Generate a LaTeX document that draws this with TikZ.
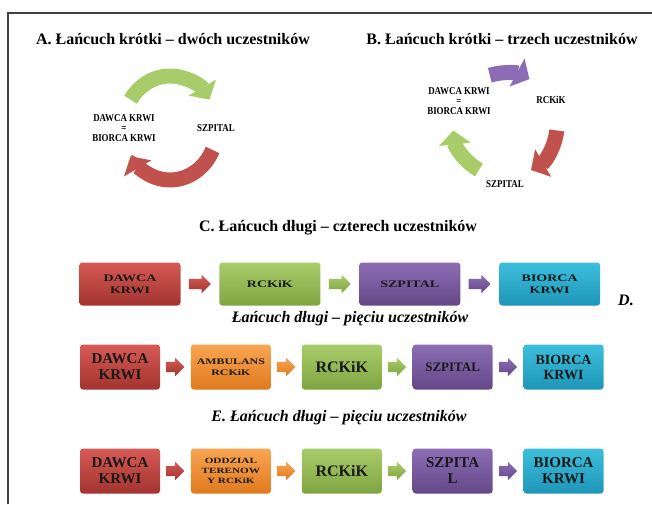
\documentclass[tikz,border=0pt]{standalone}
\usepackage{fontspec}
\setmainfont{Liberation Serif}
\newfontfamily\widefont[FakeStretch=1.4]{Liberation Serif}
\newfontfamily\narrowfont[FakeStretch=0.85]{Liberation Serif}
\usetikzlibrary{positioning,shapes.arrows,arrows.meta}

\definecolor{redtop}{HTML}{D65A55}
\definecolor{redbot}{HTML}{A2332F}
\definecolor{greentop}{HTML}{A9CC6B}
\definecolor{greenbot}{HTML}{7FA541}
\definecolor{purpletop}{HTML}{8C6DB5}
\definecolor{purplebot}{HTML}{644887}
\definecolor{cyantop}{HTML}{3DBEDD}
\definecolor{cyanbot}{HTML}{1E96B8}
\definecolor{orangetop}{HTML}{F9A552}
\definecolor{orangebot}{HTML}{E07A1E}

\begin{document}
\begin{tikzpicture}[x=1pt,y=-1pt,
  title/.style={font=\bfseries\fontsize{16}{18}\selectfont},
  ititle/.style={font=\bfseries\itshape\fontsize{16}{18}\selectfont},
  ringtext/.style={font=\narrowfont\bfseries\fontsize{10.5}{10}\selectfont,align=center,inner sep=1pt},
  ring/.style={line width=15pt,-{Triangle[length=14pt,width=31pt]}},
  box/.style={rounded corners=3pt,align=center,inner sep=1pt,text=black!90,
    minimum width=80pt,minimum height=45pt,font=\bfseries\fontsize{15}{16}\selectfont},
  bigbox/.style={box,minimum width=101pt,minimum height=43pt,font=\widefont\bfseries\fontsize{10}{12}\selectfont},
  smalltext/.style={font=\widefont\bfseries\fontsize{8.5}{11}\selectfont},
  redfill/.style={top color=redtop,bottom color=redbot},
  greenfill/.style={top color=greentop,bottom color=greenbot},
  purplefill/.style={top color=purpletop,bottom color=purplebot},
  cyanfill/.style={top color=cyantop,bottom color=cyanbot},
  orangefill/.style={top color=orangetop,bottom color=orangebot},
  link/.style={single arrow,single arrow head extend=4pt,inner xsep=0pt,inner ysep=5pt,
    minimum height=18pt},
  biglink/.style={link,minimum height=22pt}]
\useasboundingbox (0,0) rectangle (652,504);
\draw[line width=1.2pt,black!75] (8,504) -- (8,13) -- (652,13);

% A. short chain, two participants
\node[title] (ta) at (173,39) {A. Łańcuch krótki – dwóch uczestników};
\coordinate (ca) at (170,128);
\draw[ring,greentop] (ca) ++(-147:47 and 52) arc[start angle=-147,end angle=-33,x radius=47,y radius=52];
\draw[ring,redtop!90!black] (ca) ++(25:47 and 52) arc[start angle=25,end angle=147,x radius=47,y radius=52];
\node[ringtext] (a1) at (124,128) {DAWCA KRWI\\=\\BIORCA KRWI};
\node[ringtext] (a2) at (216,128) {SZPITAL};

% B. short chain, three participants
\node[title] (tb) at (502,39) {B. Łańcuch krótki – trzech uczestników};
\coordinate (cb) at (505,125);
\draw[ring,purpletop] (cb) ++(-107:52) arc[start angle=-107,end angle=-62,radius=52];
\draw[ring,redtop!90!black] (cb) ++(6:52) arc[start angle=6,end angle=60,radius=52];
\draw[ring,greentop] (cb) ++(120:52) arc[start angle=120,end angle=174,radius=52];
\node[ringtext] (b1) at (459,101) {DAWCA KRWI\\=\\BIORCA KRWI};
\node[ringtext] (b2) at (551,100) {RCKiK};
\node[ringtext] (b3) at (505,184) {SZPITAL};

% C. long chain, four participants
\node[title] (tc) at (338,228) {C. Łańcuch długi – czterech uczestników};
\node[bigbox,redfill] (c1) at (130,284) {DAWCA\\KRWI};
\node[biglink,redfill,right=8pt of c1] (cl1) {};
\node[bigbox,greenfill,right=8pt of cl1] (c2) {RCKiK};
\node[biglink,greenfill,right=8pt of c2] (cl2) {};
\node[bigbox,purplefill,right=8pt of cl2] (c3) {SZPITAL};
\node[biglink,purplefill,right=8pt of c3] (cl3) {};
\node[bigbox,cyanfill,right=8pt of cl3] (c4) {BIORCA\\KRWI};

% D. long chain, five participants
\node[ititle] (dl) at (626,300) {D.};
\node[ititle] (td) at (350,319) {Łańcuch długi – pięciu uczestników};
\node[box,redfill] (d1) at (120,367) {DAWCA\\KRWI};
\node[link,redfill,right=6pt of d1] (dl1) {};
\node[box,orangefill,smalltext,right=6pt of dl1] (d2) {AMBULANS\\RCKiK};
\node[link,orangefill,right=6pt of d2] (dl2) {};
\node[box,greenfill,right=6pt of dl2,font=\bfseries\fontsize{16}{17}\selectfont] (d3) {RCKiK};
\node[link,greenfill,right=6pt of d3] (dl3) {};
\node[box,purplefill,right=6pt of dl3,font=\bfseries\fontsize{13}{15}\selectfont] (d4) {SZPITAL};
\node[link,purplefill,right=6pt of d4] (dl4) {};
\node[box,cyanfill,right=6pt of dl4,font=\bfseries\fontsize{14}{15}\selectfont] (d5) {BIORCA\\KRWI};

% E. long chain, five participants
\node[ititle] (te) at (339,418) {E. Łańcuch długi – pięciu uczestników};
\node[box,redfill] (e1) at (120,471) {DAWCA\\KRWI};
\node[link,redfill,right=6pt of e1] (el1) {};
\node[box,orangefill,smalltext,right=6pt of el1,font=\widefont\bfseries\fontsize{8}{10}\selectfont] (e2) {ODDZIAL\\TERENOW\\Y RCKiK};
\node[link,orangefill,right=6pt of e2] (el2) {};
\node[box,greenfill,right=6pt of el2,font=\bfseries\fontsize{16}{17}\selectfont] (e3) {RCKiK};
\node[link,greenfill,right=6pt of e3] (el3) {};
\node[box,purplefill,right=6pt of el3] (e4) {SZPITA\\L};
\node[link,purplefill,right=6pt of e4] (el4) {};
\node[box,cyanfill,right=6pt of el4] (e5) {BIORCA\\KRWI};
\end{tikzpicture}
\end{document}
